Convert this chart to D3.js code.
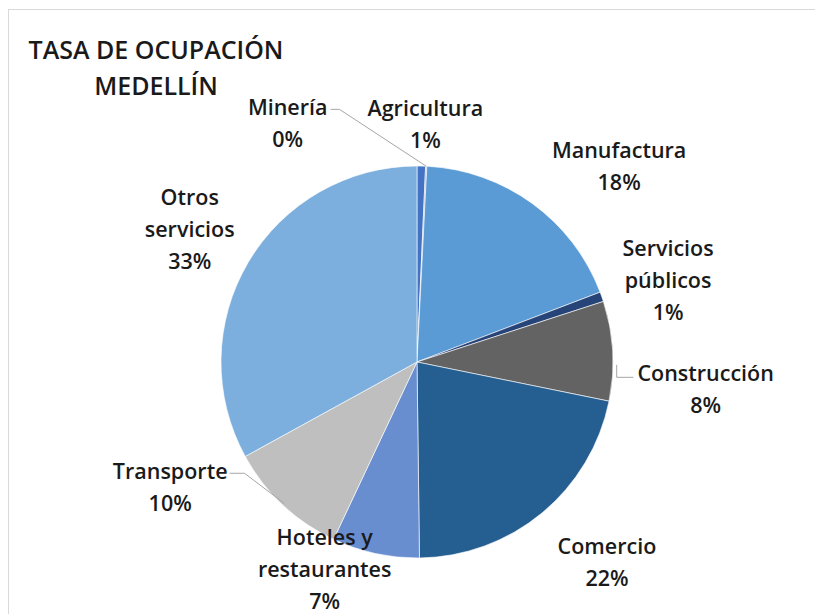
<!DOCTYPE html>
<html>
<head>
<meta charset="utf-8">
<script src="https://cdn.jsdelivr.net/npm/d3@7"></script>
<style>
  body { margin: 0; background: #fff; }
  text { font-family: "Open Sans", Lato, sans-serif; font-weight: 600; fill: #1a1a1a; }
</style>
</head>
<body>
<div class="chart"></div>
<script>
// sectores, en el orden en que Excel los dibuja (desde las 12 en sentido horario)
const sectors = ['Agricultura', 'Minería', 'Manufactura', 'Servicios públicos', 'Construcción',
  'Comercio', 'Hoteles y restaurantes', 'Transporte', 'Otros servicios'];
const shares = [0.7, 0.1, 18.4, 0.8, 8.2, 21.6, 7.2, 10.0, 33.0];
const colors = ['#4472c4', '#a5a5a5', '#5b9bd5', '#264478', '#636363',
  '#255e91', '#698ed0', '#bfbfbf', '#7cafdd'];
// como parte la etiqueta en lineas
const labelLines = [['Agricultura'], ['Minería'], ['Manufactura'], ['Servicios', 'públicos'],
  ['Construcción'], ['Comercio'], ['Hoteles y', 'restaurantes'], ['Transporte'], ['Otros', 'servicios']];
// posicion de cada etiqueta: [angulo en grados desde el norte, distancia al centro]
const labelPolar = [[2, 238], [331.5, 271], [46, 281], [72, 264], [95.5, 290],
  [136.5, 276], [204, 227], [243, 277], [300.2, 263]];
const titleLines = ['TASA DE OCUPACIÓN', 'MEDELLÍN'];

const width = 815;
const height = 614;
const cx = 417, cy = 362, radius = 196;
const lineH = 32;

const svg = d3.select('.chart').append('svg')
  .attr('width', width)
  .attr('height', height);

// marco del area del grafico (se sale por la derecha y por abajo)
svg.append('rect')
  .attr('x', 8.5).attr('y', 9.5)
  .attr('width', width + 20).attr('height', height + 20)
  .attr('fill', 'none')
  .attr('stroke', '#d9d9d9');

const title = svg.append('text')
  .attr('text-anchor', 'middle')
  .style('font-size', '25px');
titleLines.forEach((t, i) => {
  title.append('tspan').attr('x', 156).attr('y', 59 + i * 36).text(t);
});

const data = sectors.map((s, i) => ({name: s, value: shares[i], i: i}));

const pie = d3.pie().sort(null).value(d => d.value);
const arc = d3.arc().innerRadius(0).outerRadius(radius);
const arcs = pie(data);

const g = svg.append('g').attr('transform', `translate(${cx},${cy})`);

g.selectAll('path')
  .data(arcs)
  .enter()
  .append('path')
  .attr('d', arc)
  .attr('fill', d => colors[d.data.i])
  .attr('stroke', '#fff')
  .attr('stroke-width', 0.6);

function polar(angleDeg, dist) {
  const a = angleDeg * Math.PI / 180;
  return [Math.sin(a) * dist, -Math.cos(a) * dist];
}

const labels = g.selectAll('text.lbl')
  .data(arcs)
  .enter()
  .append('text')
  .attr('class', 'lbl')
  .attr('text-anchor', 'middle')
  .style('font-size', '21.5px')
  .each(function(d) {
    const [x, y] = polar(labelPolar[d.data.i][0], labelPolar[d.data.i][1]);
    const lines = labelLines[d.data.i].concat([Math.round(d.data.value) + '%']);
    const top = y - (lines.length - 1) * lineH / 2;
    const t = d3.select(this);
    lines.forEach((l, k) => {
      t.append('tspan').attr('x', x).attr('y', top + k * lineH).attr('dy', '0.35em').text(l);
    });
  });

// lineas guia para las etiquetas que quedan lejos de su sector
function edge(d, extra) {
  const mid = (d.startAngle + d.endAngle) / 2;
  return [Math.sin(mid) * (radius + extra), -Math.cos(mid) * (radius + extra)];
}
function boxOf(d) {
  return labels.filter(e => e === d).node().getBBox();
}
const leader = d3.line();
const leaderFor = {
  'Minería': d => {
    const b = boxOf(d);
    const y = b.y + lineH / 2 + 1;
    return [[b.x + b.width + 3, y], [b.x + b.width + 12, y], edge(d, 0)];
  },
  'Construcción': d => {
    const b = boxOf(d);
    const y = b.y + lineH / 2 + 3;
    const e = edge(d, 1);
    return [[e[0] + 3, e[1] + 14], [e[0] + 3, y], [b.x - 4, y]];
  },
  'Transporte': d => {
    const b = boxOf(d);
    const y = b.y + lineH / 2 + 1;
    return [[b.x + b.width + 2, y], [b.x + b.width + 17, y], edge(d, -2)];
  }
};

arcs.filter(d => leaderFor[d.data.name]).forEach(d => {
  g.append('path')
    .attr('d', leader(leaderFor[d.data.name](d)))
    .attr('fill', 'none')
    .attr('stroke', '#a6a6a6')
    .attr('stroke-width', 1);
});
</script>
</body>
</html>
